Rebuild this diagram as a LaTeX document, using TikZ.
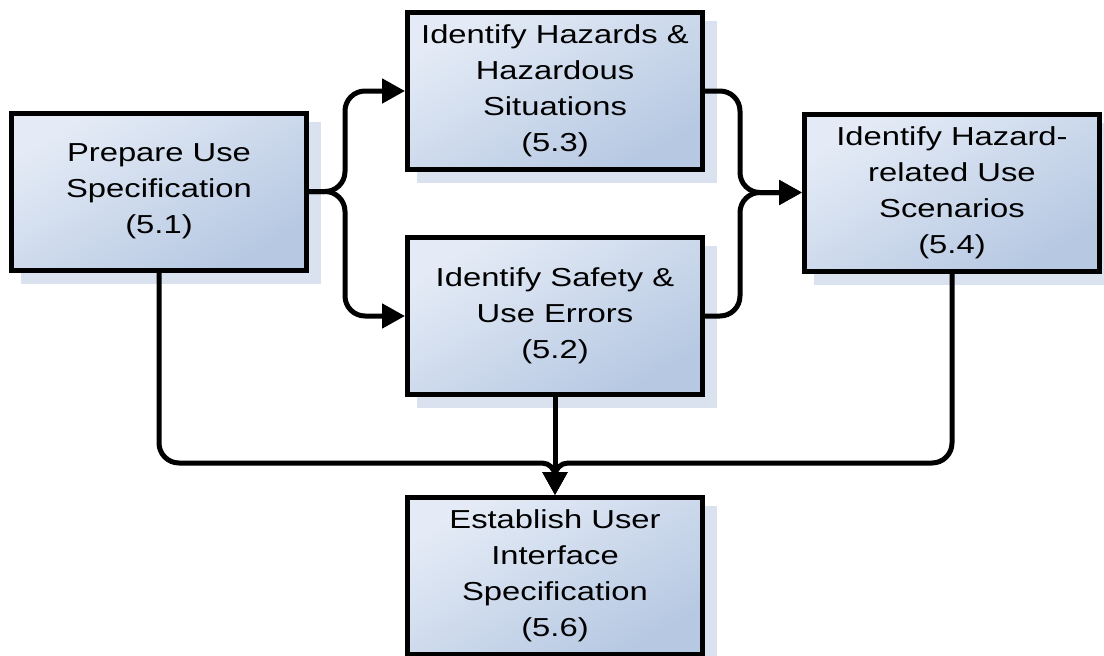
\documentclass[tikz,border=0pt]{standalone}
\usepackage{fontspec}
\setmainfont{Liberation Sans}[FakeStretch=1.26]
\usetikzlibrary{arrows.meta,shadows}

\definecolor{boxlight}{RGB}{228,235,246}
\definecolor{boxdark}{RGB}{182,200,226}
\definecolor{shadowblue}{RGB}{218,226,239}

\tikzset{
  stepbox/.style={
    rectangle, draw=black, line width=5pt,
    minimum width=295pt, minimum height=157pt,
    top color=boxlight, bottom color=boxdark, shading angle=30,
    general shadow={fill=shadowblue, draw=shadowblue, line width=5pt,
                    shadow xshift=12pt, shadow yshift=-11pt},
    align=center, text=black,
    font=\fontsize{26}{36}\selectfont, inner sep=0pt
  },
  conn/.style={
    draw=black, line width=5pt, rounded corners=20pt,
    -{Triangle[length=23pt,width=24pt]}
  }
}

\begin{document}
\begin{tikzpicture}[x=1pt,y=-1pt]
  \useasboundingbox (0,0) rectangle (1104,656);

  % process steps
  \node[stepbox] (n51) at (159,191.5) {Prepare Use\\Specification\\(5.1)};
  \node[stepbox] (n53) at (555,91) {Identify Hazards \&\\Hazardous\\Situations\\(5.3)};
  \node[stepbox] (n52) at (555,316) {Identify Safety \&\\Use Errors\\(5.2)};
  \node[stepbox] (n54) at (952,192.5) {Identify Hazard-\\related Use\\Scenarios\\(5.4)};
  \node[stepbox] (n56) at (555,576) {Establish User\\Interface\\Specification\\(5.6)};

  % routing points for the branching connectors
  \coordinate (split) at (345,0);
  \coordinate (merge) at (740,0);
  \coordinate (bus) at (0,463);

  % 5.1 fans out to 5.3 and 5.2
  \draw[conn] (n51.east) -- (n51.east -| split) |- (n53.west);
  \draw[conn] (n51.east) -- (n51.east -| split) |- (n52.west);

  % 5.3 and 5.2 join into 5.4
  \draw[conn] (n53.east) -- (n53.east -| merge) |- (n54.west);
  \draw[conn] (n52.east) -- (n52.east -| merge) |- (n54.west);

  % everything feeds 5.6
  \draw[conn] (n52.south) -- (n56.north);
  \draw[conn] (n51.south) -- (n51.south |- bus) [rounded corners=13pt] -- (n56.north |- bus) -- (n56.north);
  \draw[conn] (n54.south) -- (n54.south |- bus) [rounded corners=13pt] -- (n56.north |- bus) -- (n56.north);
\end{tikzpicture}
\end{document}
